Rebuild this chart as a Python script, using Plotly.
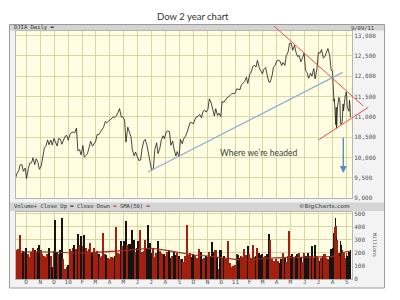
import pandas as pd
import plotly.graph_objects as go

# ---------------- DATA ----------------
TITLE = "Dow 2 year chart"

# DJIA closes, Tue/Fri of each week, 2009-09-08 .. 2011-07-29
close_semiweekly = [
    # 2009
    9497, 9605, 9683, 9820, 9829, 9665, 9742, 9487,
    9731, 9865, 9871, 9996, 9829, 9972, 9882, 9713,
    9789, 10023, 10247, 10270, 10437, 10318, 10433, 10310,
    10472, 10388, 10286, 10471, 10452, 10329, 10464, 10520, 10545, 10428,
    # 2010
    10573, 10618, 10627, 10610, 10725, 10172, 10194, 10067,
    10297, 10012, 10059, 10099, 10268, 10402, 10282, 10325,
    10405, 10566, 10564, 10625, 10685, 10742, 10888, 10851,
    10895, 10927, 10969, 10997, 10992, 11019, 11117, 11204, 10992, 11009,
    10926, 10380, 10749, 10620, 10510, 10193, 10043, 10137,
    10025, 9931, 9940, 10211, 10405, 10450, 10294, 10144,
    9870, 9686, 9743, 10198, 10364, 10097, 10230, 10424, 10537, 10466,
    10636, 10653, 10644, 10303, 10405, 10213, 10040, 10150,
    10015, 10448, 10341, 10462, 10526, 10607, 10761, 10860,
    10858, 10829, 10944, 11006, 11021, 11062, 10978, 11133, 11169, 11118,
    11188, 11444, 11346, 11192, 11023, 11204, 11036, 11092,
    11006, 11382, 11359, 11410, 11476, 11491, 11534, 11573, 11575, 11577,
    # 2011
    11691, 11674, 11671, 11787, 11837, 11871, 11977, 11823,
    12040, 12092, 12233, 12273, 12226, 12391, 12212, 12130,
    12058, 12169, 12214, 12044, 11855, 11858, 12018, 12221,
    12279, 12376, 12393, 12380, 12263, 12342, 12266, 12505, 12595, 12810,
    12807, 12638, 12760, 12596, 12479, 12512, 12356, 12441,
    12570, 12151, 12070, 11952, 12076, 12004, 12190, 11934,
    12188, 12582, 12570, 12657, 12447, 12479, 12587, 12681, 12501, 12143,
]
# daily closes 2011-08-01 .. 2011-09-09
close_daily = [12132, 11867, 11896, 11384, 11445, 10810, 11240, 10720, 11144, 11270,
               11482, 11406, 11410, 10991, 10818, 10855, 11177, 11320, 11150, 11285,
               11540, 11560, 11614, 11494, 11240, 11140, 11415, 11296, 10993]

# volume (millions), same dates
volume_semiweekly = [
    # 2009
    210, 225, 230, 340, 200, 215, 205, 240,
    195, 170, 210, 235, 220, 205, 240, 265,
    225, 190, 180, 170, 190, 235, 175, 90,
    215, 455, 210, 195, 220, 470, 150, 75, 95, 110,
    # 2010
    230, 215, 240, 260, 230, 345, 260, 330,
    250, 340, 240, 215, 230, 280, 210, 240,
    200, 215, 190, 170, 180, 350, 195, 185,
    160, 150, 170, 160, 175, 400, 200, 190, 290, 250,
    290, 446, 260, 270, 270, 380, 300, 210,
    240, 290, 377, 210, 215, 300, 230, 415,
    280, 200, 230, 170, 200, 290, 215, 200, 190, 195,
    180, 210, 220, 165, 175, 210, 185, 200,
    175, 150, 150, 130, 175, 415, 185, 200,
    170, 190, 185, 165, 160, 230, 205, 150, 165, 175,
    170, 210, 180, 287, 210, 225, 170, 80,
    223, 165, 175, 150, 165, 290, 120, 95, 100, 110,
    # 2011
    190, 185, 165, 180, 170, 230, 185, 250,
    195, 160, 262, 170, 175, 240, 200, 185,
    190, 170, 175, 195, 346, 300, 150, 140,
    140, 150, 135, 125, 150, 200, 160, 130, 175, 369,
    180, 190, 160, 175, 190, 200, 165, 130,
    200, 180, 175, 200, 180, 250, 165, 262,
    175, 165, 140, 160, 175, 190, 165, 150, 180, 230,
]
volume_daily = [210, 240, 250, 350, 400, 467, 410, 325, 300, 230,
                200, 195, 180, 290, 260, 190, 220, 200, 210, 200,
                150, 160, 200, 170, 175, 210, 180, 190, 225]

sma_dates = ["2009-09-01", "2009-10-01", "2009-11-01", "2009-12-01",
             "2010-01-01", "2010-02-01", "2010-03-01", "2010-04-01", "2010-05-01", "2010-06-01",
             "2010-07-01", "2010-08-01", "2010-09-01", "2010-10-01", "2010-11-01", "2010-12-01",
             "2011-01-01", "2011-02-01", "2011-03-01", "2011-04-01", "2011-05-01", "2011-06-01",
             "2011-07-01", "2011-08-01", "2011-08-15", "2011-09-01", "2011-09-09"]
sma_values = [210, 210, 208, 208, 202, 200, 205, 210, 218, 228, 236, 222, 205, 185,
              177, 165, 151, 146, 158, 162, 164, 164, 166, 172, 198, 210, 215]

month_labels = ["O", "N", "D", "10", "F", "M", "A", "M", "J", "J", "A", "S",
                "O", "N", "D", "11", "F", "M", "A", "M", "J", "J", "A", "S"]
price_ticks = [9000, 9500, 10000, 10500, 11000, 11500, 12000, 12500, 13000]
volume_ticks = [0, 100, 200, 300, 400, 500]

# ---------------- BUILD ----------------
tue = pd.date_range("2009-09-08", "2011-07-26", freq="W-TUE")
fri = pd.date_range("2009-09-11", "2011-07-29", freq="W-FRI")
semi_dates = sorted(list(tue) + list(fri))
daily_dates = [d for d in pd.bdate_range("2011-08-01", "2011-09-09") if d != pd.Timestamp("2011-09-05")]
dates = semi_dates + daily_dates
closes = close_semiweekly + close_daily
volumes = volume_semiweekly + volume_daily

DAY = 86400000
widths = [3.4 * DAY] * len(semi_dates) + [1.0 * DAY] * len(daily_dates)
RED, BLACK = "#a3200f", "#141414"
bar_colors = [RED] + [RED if closes[i] >= closes[i - 1] else BLACK for i in range(1, len(closes))]

month_ticks = pd.date_range("2009-10-01", "2011-09-01", freq="MS")

W, H = 400, 300
def px(x):
    return x / W
def py(y):
    return 1 - y / H

PL, PR = 16, 352
P_TOP, P_BOT = 30.7, 198.3
V_TOP, V_BOT = 212, 279

GRID = "#dbd5a6"
BG = "#fffde2"
MONO = "DejaVu Sans Mono"

fig = go.Figure()
fig.add_trace(go.Scatter(x=dates, y=closes, mode="lines",
                         line=dict(color="#1a1a1a", width=0.8),
                         xaxis="x", yaxis="y", showlegend=False, hoverinfo="skip"))
fig.add_trace(go.Bar(x=dates, y=volumes, width=widths, marker=dict(color=bar_colors, line=dict(width=0)),
                     xaxis="x2", yaxis="y2", showlegend=False, hoverinfo="skip"))
fig.add_trace(go.Scatter(x=sma_dates, y=sma_values, mode="lines",
                         line=dict(color="#9b2a1c", width=1.1),
                         xaxis="x2", yaxis="y2", showlegend=False, hoverinfo="skip"))

xrange = ["2009-09-09", "2011-09-12 12:00"]
common_x = dict(type="date", range=xrange, domain=[px(PL), px(PR)], tickvals=month_ticks,
                showgrid=True, gridcolor=GRID, gridwidth=1, ticks="", showline=True,
                linecolor="#b5b5b5", linewidth=1, mirror=True, zeroline=False, automargin=False)
common_y = dict(side="right", showgrid=True, gridcolor=GRID, gridwidth=1, ticks="",
                showline=True, linecolor="#b5b5b5", linewidth=1, mirror=True, zeroline=False,
                tickfont=dict(family=MONO, size=6, color="#555555"), automargin=False)

fig.update_layout(
    width=W, height=H, margin=dict(l=0, r=0, t=0, b=0), autosize=False,
    paper_bgcolor="white", plot_bgcolor="rgba(0,0,0,0)",
    bargap=0, showlegend=False,
    xaxis=dict(anchor="y", showticklabels=False, **common_x),
    yaxis=dict(anchor="x", domain=[py(P_BOT), py(P_TOP)], range=[9000, 13120],
               tickvals=price_ticks, tickformat=",", **common_y),
    xaxis2=dict(anchor="y2", matches="x", ticktext=month_labels, showticklabels=True,
                ticklabelstandoff=-3,
                tickfont=dict(family=MONO, size=6, color="#555555"), **common_x),
    yaxis2=dict(anchor="x2", domain=[py(V_BOT), py(V_TOP)], range=[0, 515],
                tickvals=volume_ticks, **common_y),
)

shapes = [
    dict(type="rect", xref="paper", yref="paper", x0=px(9.5), x1=px(384.5), y0=py(288), y1=py(24.5),
         fillcolor="#f3f3f3", line=dict(color="#9c9c9c", width=1), layer="below"),
    dict(type="rect", xref="paper", yref="paper", x0=px(10), x1=px(384), y0=py(30.5), y1=py(25),
         fillcolor="#d4d4d4", line=dict(width=0), layer="below"),
    dict(type="rect", xref="paper", yref="paper", x0=px(10), x1=px(384), y0=py(211), y1=py(202.5),
         fillcolor="#d4d4d4", line=dict(width=0), layer="below"),
    dict(type="rect", xref="paper", yref="paper", x0=px(PL), x1=px(PR), y0=py(P_BOT), y1=py(P_TOP),
         fillcolor=BG, line=dict(width=0), layer="below"),
    dict(type="rect", xref="paper", yref="paper", x0=px(PL), x1=px(PR), y0=py(V_BOT), y1=py(V_TOP),
         fillcolor=BG, line=dict(width=0), layer="below"),
    # hand-drawn trend lines
    dict(type="line", xref="paper", yref="paper", x0=px(148), y0=py(172), x1=px(342.7), y1=py(72.3),
         line=dict(color="#8fb0d4", width=1.3), layer="above"),
    dict(type="line", xref="paper", yref="paper", x0=px(274), y0=py(26), x1=px(363.3), y1=py(106),
         line=dict(color="#e8504a", width=1), layer="above"),
    dict(type="line", xref="paper", yref="paper", x0=px(318.3), y0=py(140), x1=px(368.3), y1=py(107.3),
         line=dict(color="#e8504a", width=1), layer="above"),
]
fig.update_layout(shapes=shapes)

small = dict(family=MONO, size=5.5, color="#333333")
base = dict(xref="paper", yref="paper", showarrow=False, yanchor="middle")
annots = [
    dict(text=TITLE, x=px(193), y=py(16.5), font=dict(family="Lato", size=9.5, color="#333333"), **base),
    dict(text="DJIA Daily <span style='color:#000'>━</span>", x=px(12), y=py(27.8),
         xanchor="left", font=small, **base),
    dict(text="9/09/11", x=px(376), y=py(27.8), xanchor="right", font=small, **base),
    dict(text="Volume+ Close Up <span style='color:#000'>━</span> Close Down "
              "<span style='color:#c0281a'>━</span> SMA(50) <span style='color:#8b1a1a'>━</span>",
         x=px(12), y=py(206.8), xanchor="left", font=small, **base),
    dict(text="<b>©BigCharts.com</b>", x=px(352), y=py(206.8), xanchor="right",
         font=dict(family="DejaVu Sans", size=5.5, color="#777777"), **base),
    dict(text="Millions", x=px(380), y=py(245), textangle=90,
         font=dict(family=MONO, size=5, color="#555555"), **base),
    dict(text="Where we’re headed", x=px(299), y=py(153),
         font=dict(family="Lato", size=8.5, color="#404040"), **base),
    dict(text="", x=px(343.3), y=py(173), xref="paper", yref="paper", ax=0, ay=-37,
         showarrow=True, arrowhead=2, arrowsize=1, arrowwidth=1.4, arrowcolor="#5a8dc8"),
]
fig.update_layout(annotations=annots)

fig.write_html("out.html")
